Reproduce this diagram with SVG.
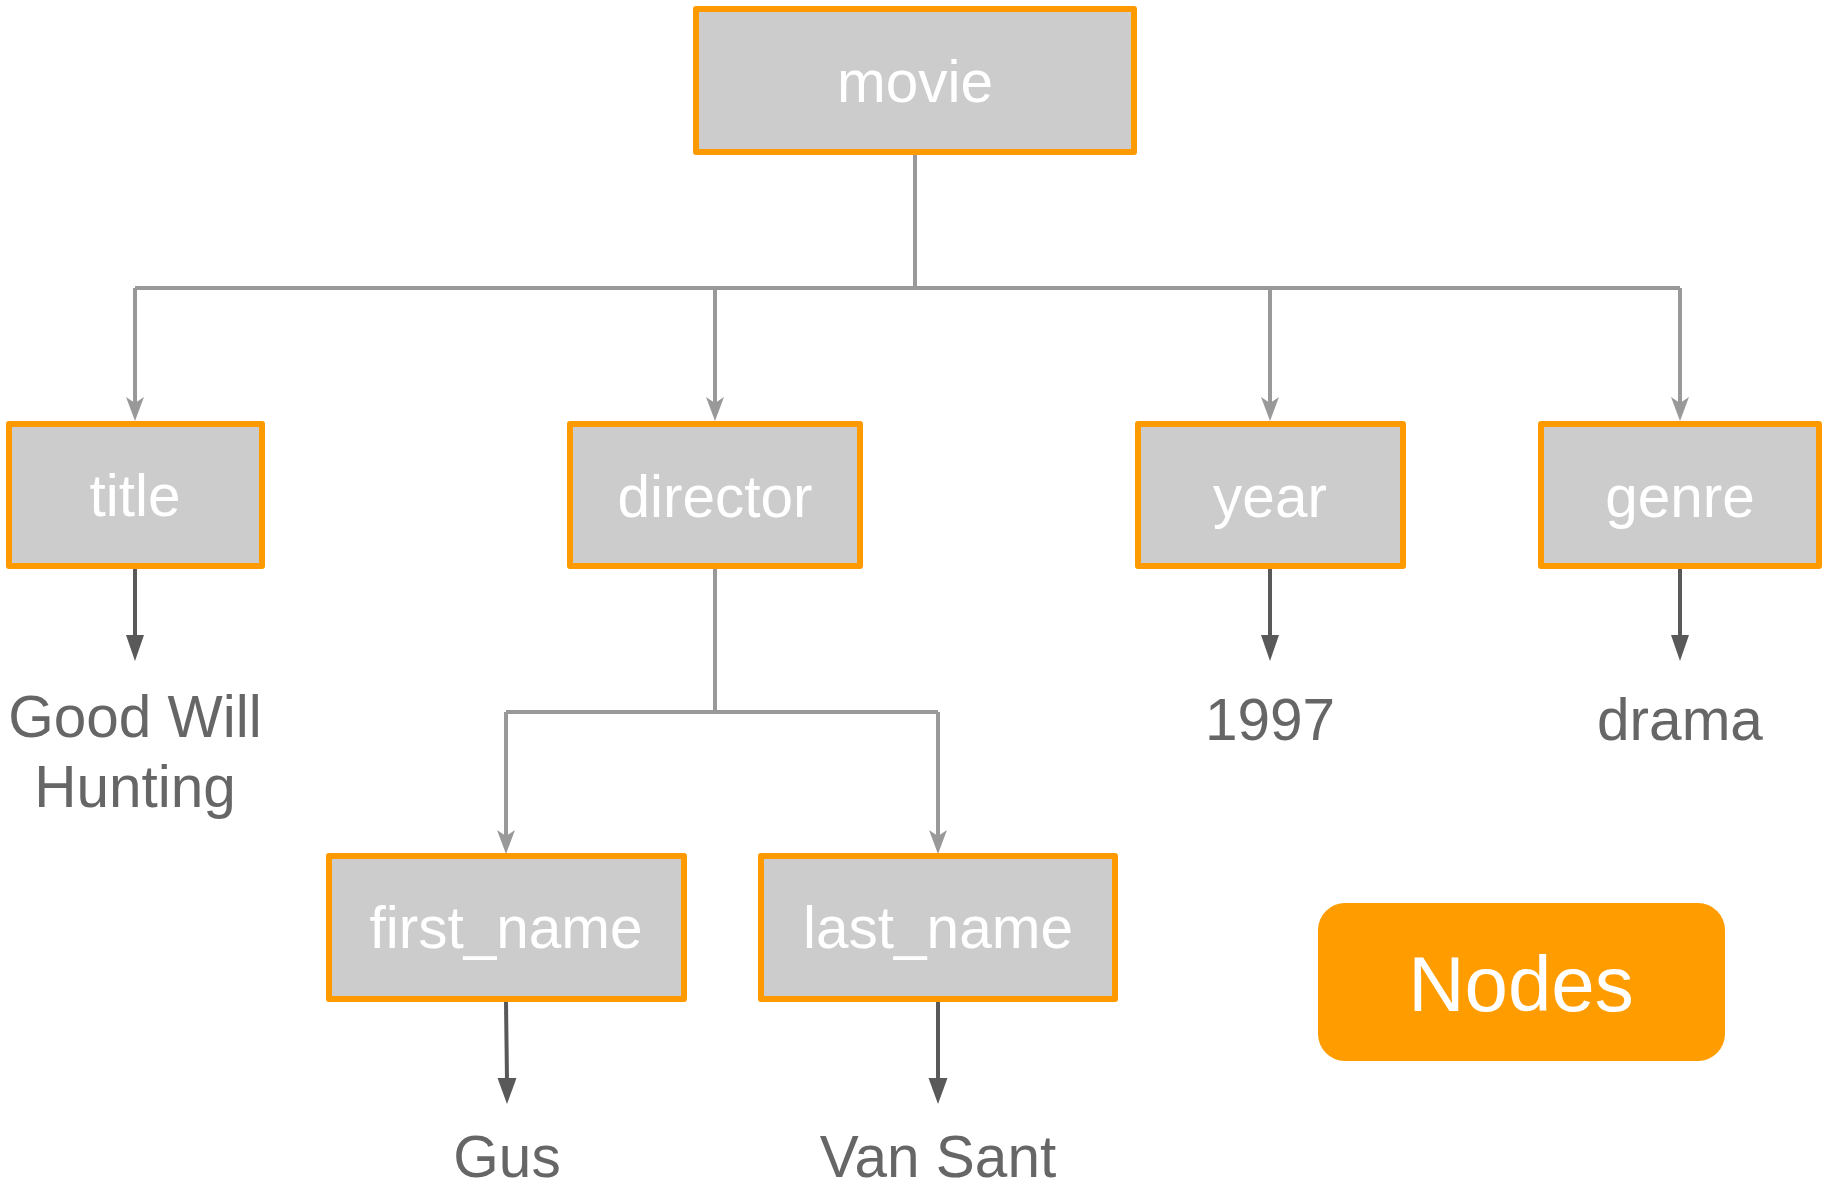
<svg xmlns="http://www.w3.org/2000/svg" width="1825" height="1189" viewBox="0 0 1825 1189">
  <style>
    .box { fill: #cccccc; stroke: #ff9900; stroke-width: 6; stroke-linejoin: round; }
    .lbl { font-family: "Liberation Sans", Arial, sans-serif; font-size: 58.5px; fill: #ffffff; text-anchor: middle; }
    .val { font-family: "Liberation Sans", Arial, sans-serif; font-size: 58.5px; fill: #666666; text-anchor: middle; }
    .link { fill: none; stroke: #999999; stroke-width: 4; }
    .leaf { fill: none; stroke: #595959; stroke-width: 4; }
    .head { fill: #999999; }
    .tip { fill: #595959; }
  </style>
  <rect width="1825" height="1189" fill="#ffffff"/>

  <g id="connectors">
    <!-- movie to its children -->
    <path class="link" d="M915,155 V288"/>
    <path class="link" d="M135,288 H1680"/>
    <path class="link" d="M135,288 V404"/>
    <path class="link" d="M715,288 V404"/>
    <path class="link" d="M1270,288 V404"/>
    <path class="link" d="M1680,288 V404"/>
    <path class="head" d="M135,421 l-9,-24 l9,6 l9,-6 z"/>
    <path class="head" d="M715,421 l-9,-24 l9,6 l9,-6 z"/>
    <path class="head" d="M1270,421 l-9,-24 l9,6 l9,-6 z"/>
    <path class="head" d="M1680,421 l-9,-24 l9,6 l9,-6 z"/>
    <!-- director to its children -->
    <path class="link" d="M715,569 V712"/>
    <path class="link" d="M506,712 H938"/>
    <path class="link" d="M506,712 V837"/>
    <path class="link" d="M938,712 V837"/>
    <path class="head" d="M506,854 l-9,-24 l9,6 l9,-6 z"/>
    <path class="head" d="M938,854 l-9,-24 l9,6 l9,-6 z"/>
    <!-- leaves to values -->
    <path class="leaf" d="M135,569 V637"/>
    <path class="tip" d="M135,661 l-9,-26 h18 z"/>
    <path class="leaf" d="M1270,569 V637"/>
    <path class="tip" d="M1270,661 l-9,-26 h18 z"/>
    <path class="leaf" d="M1680,569 V637"/>
    <path class="tip" d="M1680,661 l-9,-26 h18 z"/>
    <path class="leaf" d="M506,1002 L507,1080"/>
    <path class="tip" d="M507,1104 l-9.5,-26 h19 z"/>
    <path class="leaf" d="M938,1002 V1080"/>
    <path class="tip" d="M938,1104 l-9.5,-26 h19 z"/>
  </g>

  <g id="movie">
    <rect class="box" x="696" y="9" width="438" height="143"/>
    <text class="lbl" x="915" y="102">movie</text>
  </g>
  <g id="title">
    <rect class="box" x="9" y="424" width="253" height="142"/>
    <text class="lbl" x="135" y="516">title</text>
  </g>
  <g id="director">
    <rect class="box" x="570" y="424" width="290" height="142"/>
    <text class="lbl" x="715" y="517">director</text>
  </g>
  <g id="year">
    <rect class="box" x="1138" y="424" width="265" height="142"/>
    <text class="lbl" x="1270" y="517">year</text>
  </g>
  <g id="genre">
    <rect class="box" x="1541" y="424" width="278" height="142"/>
    <text class="lbl" x="1680" y="517">genre</text>
  </g>
  <g id="first_name">
    <rect class="box" x="329" y="856" width="355" height="143"/>
    <text class="lbl" x="506" y="948">first_name</text>
  </g>
  <g id="last_name">
    <rect class="box" x="761" y="856" width="354" height="143"/>
    <text class="lbl" x="938" y="948">last_name</text>
  </g>

  <g id="values">
    <text class="val" x="135" y="737">Good Will</text>
    <text class="val" x="135" y="807">Hunting</text>
    <text class="val" x="1270" y="740">1997</text>
    <text class="val" x="1680" y="740">drama</text>
    <text class="val" x="507" y="1177">Gus</text>
    <text class="val" x="938" y="1177">Van Sant</text>
  </g>

  <g id="legend">
    <rect x="1318" y="903" width="407" height="158" rx="27" fill="#ff9c00"/>
    <text x="1521" y="1011" font-family="'Liberation Sans', Arial, sans-serif" font-size="78" fill="#ffffff" text-anchor="middle">Nodes</text>
  </g>
</svg>
